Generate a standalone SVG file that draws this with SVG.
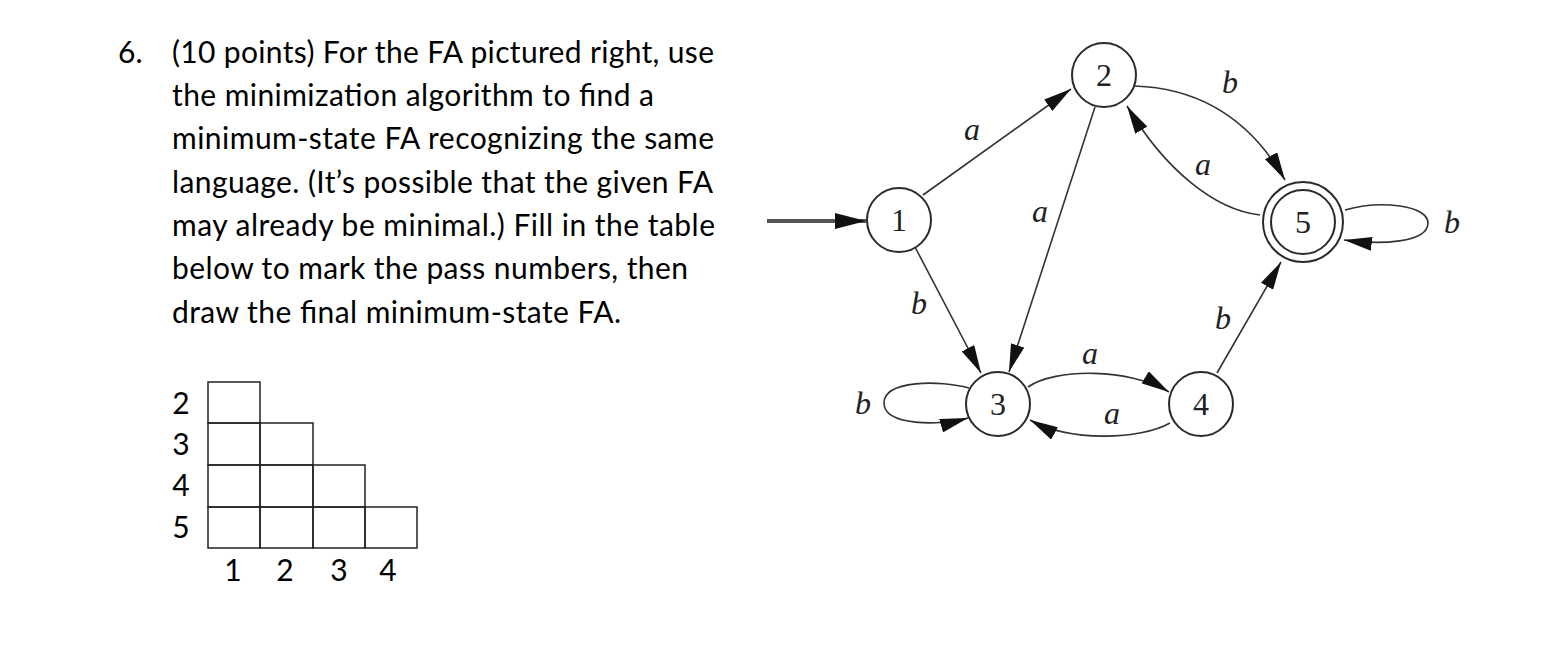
<svg xmlns="http://www.w3.org/2000/svg" width="1568" height="654" viewBox="0 0 1568 654">
<style>
.q{font-family:Lato,"Liberation Sans",sans-serif;font-size:30px;fill:#000}
.st{fill:#fff;stroke:#2a2a2a;stroke-width:2}
.dg{font-family:"Liberation Serif",serif;font-size:32px;fill:#222;text-anchor:middle}
.lb{font-family:"Liberation Serif",serif;font-style:italic;font-size:32px;fill:#222;text-anchor:middle}
.e{fill:none;stroke:#333;stroke-width:1.6;marker-end:url(#ah)}
.cell{fill:none;stroke:#222;stroke-width:1.5}
.tl{font-family:Lato,"Liberation Sans",sans-serif;font-size:30px;fill:#000;text-anchor:middle}
</style>
<defs>
<marker id="ah" markerUnits="userSpaceOnUse" markerWidth="28" markerHeight="14" viewBox="0 0 28 14" refX="28" refY="7" orient="auto"><path d="M0,0 L28,7 L0,14 z" fill="#111"/></marker>
<marker id="ahs" markerUnits="userSpaceOnUse" markerWidth="31" markerHeight="16" viewBox="0 0 31 16" refX="31" refY="8" orient="auto"><path d="M0,0 L31,8 L0,16 z" fill="#111"/></marker>
</defs>
<rect width="1568" height="654" fill="#fff"/>
<g id="question">
<text class="q" x="118" y="63">6.</text>
<text class="q" x="172" y="63" textLength="542">(10 points) For the FA pictured right, use</text>
<text class="q" x="172" y="106" textLength="482">the minimization algorithm to find a</text>
<text class="q" x="172" y="149" textLength="542">minimum-state FA recognizing the same</text>
<text class="q" x="172" y="193" textLength="541">language. (It’s possible that the given FA</text>
<text class="q" x="172" y="236" textLength="543">may already be minimal.) Fill in the table</text>
<text class="q" x="172" y="279" textLength="516">below to mark the pass numbers, then</text>
<text class="q" x="172" y="323" textLength="449">draw the final minimum-state FA.</text>
</g>
<g id="table">
<rect class="cell" x="208" y="382" width="52" height="41"/>
<rect class="cell" x="208" y="423" width="52" height="42"/>
<rect class="cell" x="260" y="423" width="53" height="42"/>
<rect class="cell" x="208" y="465" width="52" height="42"/>
<rect class="cell" x="260" y="465" width="53" height="42"/>
<rect class="cell" x="313" y="465" width="52" height="42"/>
<rect class="cell" x="208" y="507" width="52" height="41"/>
<rect class="cell" x="260" y="507" width="53" height="41"/>
<rect class="cell" x="313" y="507" width="52" height="41"/>
<rect class="cell" x="365" y="507" width="52" height="41"/>
<text class="tl" x="181" y="414">2</text>
<text class="tl" x="181" y="455">3</text>
<text class="tl" x="181" y="496">4</text>
<text class="tl" x="181" y="538">5</text>
<text class="tl" x="233" y="581">1</text>
<text class="tl" x="285" y="581">2</text>
<text class="tl" x="339" y="581">3</text>
<text class="tl" x="388" y="581">4</text>
</g>
<g id="connectors">
<path d="M767,221 L866,221" fill="none" stroke="#555" stroke-width="4" marker-end="url(#ahs)"/>
<path class="e" d="M923,195 L1071,89"/>
<path class="e" d="M1095,107 L1009,372"/>
<path class="e" d="M915,247 L981,373"/>
<path class="e" d="M1028,387 C1055,368 1130,368 1169,392"/>
<path class="e" d="M1170,423 C1140,440 1070,442 1030,420"/>
<path class="e" d="M969,388 C940,380 884,380 884,403 C884,426 940,426 968,418"/>
<path class="e" d="M1135,86 C1190,88 1245,110 1285,180"/>
<path class="e" d="M1260,215 C1215,210 1165,170 1127,106"/>
<path class="e" d="M1345,210 C1380,200 1428,205 1428,223 C1428,243 1380,245 1344,240"/>
<path class="e" d="M1217,373 L1281,262"/>
<text class="lb" x="972" y="140">a</text>
<text class="lb" x="1040" y="222">a</text>
<text class="lb" x="919" y="314">b</text>
<text class="lb" x="1230" y="93">b</text>
<text class="lb" x="1203" y="175">a</text>
<text class="lb" x="1452" y="233">b</text>
<text class="lb" x="1223" y="329">b</text>
<text class="lb" x="1090" y="364">a</text>
<text class="lb" x="1112" y="424">a</text>
<text class="lb" x="863" y="414">b</text>
</g>
<g id="node1"><circle class="st" cx="899" cy="220" r="32"/><text class="dg" x="899" y="231">1</text></g>
<g id="node2"><circle class="st" cx="1104" cy="75" r="32"/><text class="dg" x="1104" y="86">2</text></g>
<g id="node3"><circle class="st" cx="998" cy="404" r="32"/><text class="dg" x="998" y="415">3</text></g>
<g id="node4"><circle class="st" cx="1201" cy="404" r="32"/><text class="dg" x="1201" y="415">4</text></g>
<g id="node5"><circle class="st" cx="1303" cy="222" r="40"/><circle class="st" cx="1303" cy="222" r="32"/><text class="dg" x="1303" y="233">5</text></g>
</svg>
